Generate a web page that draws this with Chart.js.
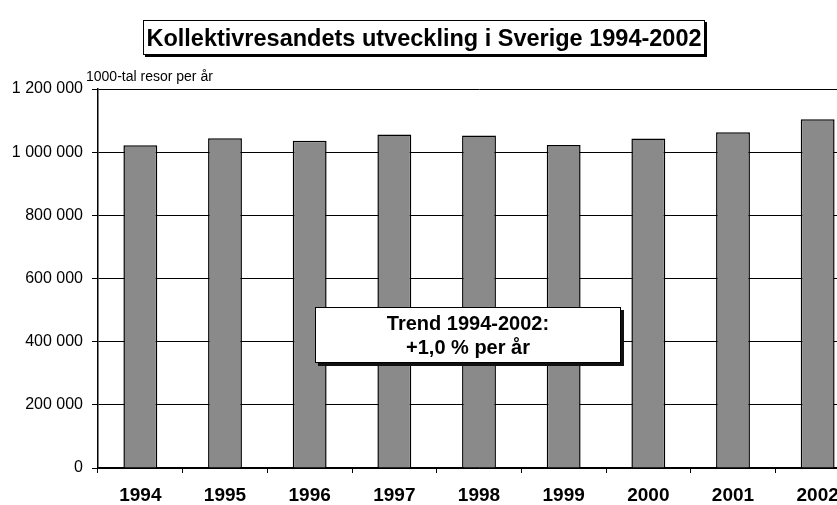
<!DOCTYPE html>
<html>
<head>
<meta charset="utf-8">
<script src="https://cdn.jsdelivr.net/npm/chart.js@4/dist/chart.umd.min.js"></script>
<style>
  html, body { margin: 0; padding: 0; background: #fff; overflow: hidden; width: 837px; height: 505px; }
  #wrap { position: relative; width: 837px; height: 505px; overflow: hidden; }
  #cv { position: absolute; left: 0; top: 0; }
  .title {
    position: absolute; left: 143px; top: 20px; width: 562px; height: 35px;
    border: 1.5px solid #000; box-shadow: 2px 2px 0 #000; background: #fff;
    font-family: "Liberation Sans", Arial, sans-serif; font-weight: bold; font-size: 23.5px;
    line-height: 34px; text-align: center; color: #000; box-sizing: border-box; white-space: nowrap;
  }
  .ylab {
    position: absolute; left: 86px; top: 68px;
    font-family: "Liberation Sans", Arial, sans-serif; font-size: 14px; color: #000;
  }
  .trend {
    position: absolute; left: 315px; top: 307px; width: 306px; height: 56px;
    border: 1px solid #000; box-shadow: 3px 3px 0 #111; background: #fff; box-sizing: border-box;
    font-family: "Liberation Sans", Arial, sans-serif; font-weight: bold; font-size: 20px;
    line-height: 24px; text-align: center; color: #000; padding-top: 3px; white-space: nowrap;
  }
</style>
</head>
<body>
<div id="wrap">
  <canvas id="cv" width="860" height="505"></canvas>
  <div class="title">Kollektivresandets utveckling i Sverige 1994-2002</div>
  <div class="ylab">1000-tal resor per år</div>
  <div class="trend">Trend 1994-2002:<br>+1,0 % per år</div>
</div>
<script>
const years = ["1994", "1995", "1996", "1997", "1998", "1999", "2000", "2001", "2002"];
const trips = [1022000, 1044000, 1036000, 1056000, 1053000, 1023000, 1043000, 1063000, 1104000];
const yTicks = [0, 200000, 400000, 600000, 800000, 1000000, 1200000];

function fmt(v) {
  return String(v).replace(/\B(?=(\d{3})+(?!\d))/g, " ");
}

new Chart(document.getElementById("cv"), {
  type: "bar",
  data: {
    labels: years,
    datasets: [{
      data: trips,
      backgroundColor: "#8a8a8a",
      borderColor: "#000",
      borderWidth: 1.5,
      barPercentage: 0.8,
      categoryPercentage: 0.5
    }]
  },
  options: {
    responsive: false,
    animation: false,
    devicePixelRatio: 1,
    layout: { padding: { top: 89, left: 0, right: 0, bottom: 0 } },
    plugins: { legend: { display: false }, tooltip: { enabled: false }, title: { display: false } },
    scales: {
      x: {
        offset: true,
        grid: { display: true, offset: true, drawOnChartArea: false, drawTicks: true, tickLength: 5, color: "#000", lineWidth: 1 },
        border: { display: true, color: "#000", width: 1.5 },
        ticks: { color: "#000", padding: 11, font: { family: "Liberation Sans, Arial, sans-serif", size: 19, weight: "bold" } },
        afterFit: (s) => { s.height = 37; }
      },
      y: {
        min: 0, max: 1200000,
        afterBuildTicks: (s) => { s.ticks = yTicks.map(v => ({ value: v })); },
        grid: { color: "#000", lineWidth: 1, tickLength: 6, drawTicks: true },
        border: { display: true, color: "#000", width: 1.5 },
        ticks: { color: "#000", padding: 9, font: { family: "Liberation Sans, Arial, sans-serif", size: 16 }, callback: (v) => fmt(v) },
        afterFit: (s) => { s.width = 98; }
      }
    }
  }
});
</script>
</body>
</html>
